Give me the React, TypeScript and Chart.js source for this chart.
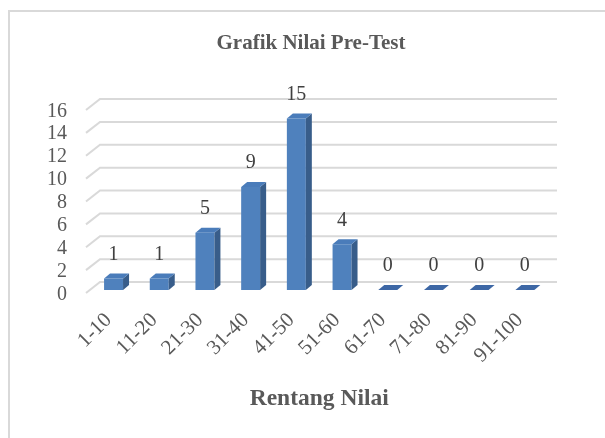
import React, { useEffect, useRef } from 'react';
import { Chart, registerables } from 'chart.js';

Chart.register(...registerables);

const categories = ['1-10', '11-20', '21-30', '31-40', '41-50', '51-60', '61-70', '71-80', '81-90', '91-100'];
const counts = [1, 1, 5, 9, 15, 4, 0, 0, 0, 0];
const yTickValues = [0, 2, 4, 6, 8, 10, 12, 14, 16];
const chartTitle = 'Grafik Nilai Pre-Test';
const axisTitle = 'Rentang Nilai';

const FONT = "'Liberation Serif', 'Times New Roman', serif";
const TEXT_COLOR = '#595959';
const FRONT = '#4f81bd';
const SIDE = '#385d8a';
const TOP = '#4a7cba';
const TOP_ZERO = '#3d67a5';
const GRID = '#d9d9d9';
const DX = 6;
const DY = 5;
// value offset of the tick-label axis (labels sit on the front edge of the floor)
const LABEL_SHIFT = 0.38;

const decor = {
  id: 'decor3d',
  beforeDraw(chart: any) {
    const { ctx } = chart;
    ctx.save();
    ctx.fillStyle = '#ffffff';
    ctx.fillRect(0, 0, chart.width, chart.height);
    ctx.strokeStyle = GRID;
    ctx.lineWidth = 2;
    ctx.strokeRect(9, 11, 1000, 1000);
    ctx.restore();
  },
  beforeDatasetsDraw(chart: any) {
    const { ctx, chartArea, scales } = chart;
    const y = scales.y;
    ctx.save();
    ctx.strokeStyle = GRID;
    ctx.lineWidth = 2;
    for (const v of yTickValues) {
      const py = y.getPixelForValue(v);
      ctx.beginPath();
      ctx.moveTo(chartArea.left - 4.7, py + 3);
      ctx.lineTo(chartArea.left + 9.3, py - 8);
      ctx.lineTo(chartArea.right + 9.3, py - 8);
      ctx.stroke();
    }
    ctx.restore();
  },
  afterDatasetsDraw(chart: any) {
    const { ctx } = chart;
    const meta = chart.getDatasetMeta(0);
    const data = chart.data.datasets[0].data as number[];
    ctx.save();
    meta.data.forEach((bar: any, i: number) => {
      const { x, y, base, width } = bar.getProps(['x', 'y', 'base', 'width'], true);
      const l = x - width / 2;
      const r = x + width / 2;
      const v = data[i];
      if (v > 0) {
        ctx.fillStyle = SIDE;
        ctx.beginPath();
        ctx.moveTo(r, y);
        ctx.lineTo(r + DX, y - DY);
        ctx.lineTo(r + DX, base - DY);
        ctx.lineTo(r, base);
        ctx.closePath();
        ctx.fill();
      }
      ctx.fillStyle = v > 0 ? TOP : TOP_ZERO;
      ctx.beginPath();
      ctx.moveTo(l, y);
      ctx.lineTo(l + DX, y - DY);
      ctx.lineTo(r + DX, y - DY);
      ctx.lineTo(r, y);
      ctx.closePath();
      ctx.fill();

      ctx.fillStyle = '#404040';
      ctx.font = `20px ${FONT}`;
      ctx.textAlign = 'center';
      ctx.textBaseline = 'middle';
      ctx.fillText(String(v), x, y - 24);
    });
    ctx.restore();
  },
};

export default function App() {
  const ref = useRef<HTMLCanvasElement | null>(null);

  useEffect(() => {
    if (!ref.current) return;
    const chart = new Chart(ref.current, {
      type: 'bar',
      data: {
        labels: categories,
        datasets: [
          {
            data: counts,
            yAxisID: 'y',
            backgroundColor: FRONT,
            borderWidth: 0,
            categoryPercentage: 1,
            barPercentage: 0.415,
          },
        ],
      },
      options: {
        responsive: false,
        animation: false,
        devicePixelRatio: 1,
        layout: { padding: { left: 45, right: 28, top: 0, bottom: 0 } },
        plugins: {
          legend: { display: false },
          tooltip: { enabled: false },
          title: {
            display: true,
            text: chartTitle,
            color: TEXT_COLOR,
            font: { family: FONT, size: 21, weight: 'bold', lineHeight: 1.2 },
            padding: { top: 30.6, bottom: 51.2 },
          },
        },
        scales: {
          x: {
            grid: { display: false, drawTicks: false },
            border: { display: false },
            ticks: {
              color: TEXT_COLOR,
              font: { family: FONT, size: 21 },
              autoSkip: false,
              minRotation: 45,
              maxRotation: 45,
              padding: 18,
              labelOffset: -5,
            },
            title: {
              display: true,
              text: axisTitle,
              color: TEXT_COLOR,
              font: { family: FONT, size: 23.5, weight: 'bold', lineHeight: 1.2 },
              padding: { top: 0, bottom: 25.2 },
            },
            afterFit: (s: any) => {
              s.height = 148;
              s.paddingLeft = 0;
              s.paddingRight = 0;
            },
          },
          y: {
            display: false,
            min: 0,
            max: 16,
          },
          yLabels: {
            position: 'left',
            min: LABEL_SHIFT,
            max: 16 + LABEL_SHIFT,
            grid: { display: false, drawTicks: false },
            border: { display: false },
            afterBuildTicks: (s: any) => {
              s.ticks = yTickValues.map((v) => ({ value: v }));
            },
            ticks: {
              color: TEXT_COLOR,
              font: { family: FONT, size: 20 },
              padding: 23.7,
              autoSkip: false,
              callback: (v: any) => String(v),
            },
            afterFit: (s: any) => {
              s.width = 45.7;
              s.paddingTop = 0;
              s.paddingBottom = 0;
            },
          },
          yRight: {
            position: 'right',
            min: 0,
            max: 16,
            grid: { display: false, drawTicks: false },
            border: { display: false },
            ticks: { display: false },
            afterFit: (s: any) => {
              s.width = 29.3;
              s.paddingTop = 0;
              s.paddingBottom = 0;
            },
          },
        },
      },
      plugins: [decor],
    });
    return () => chart.destroy();
  }, []);

  return (
    <div style={{ position: 'fixed', left: 0, top: 0, width: 605, height: 438, background: '#fff' }}>
      <canvas ref={ref} width={605} height={438} style={{ display: 'block' }} />
    </div>
  );
}
